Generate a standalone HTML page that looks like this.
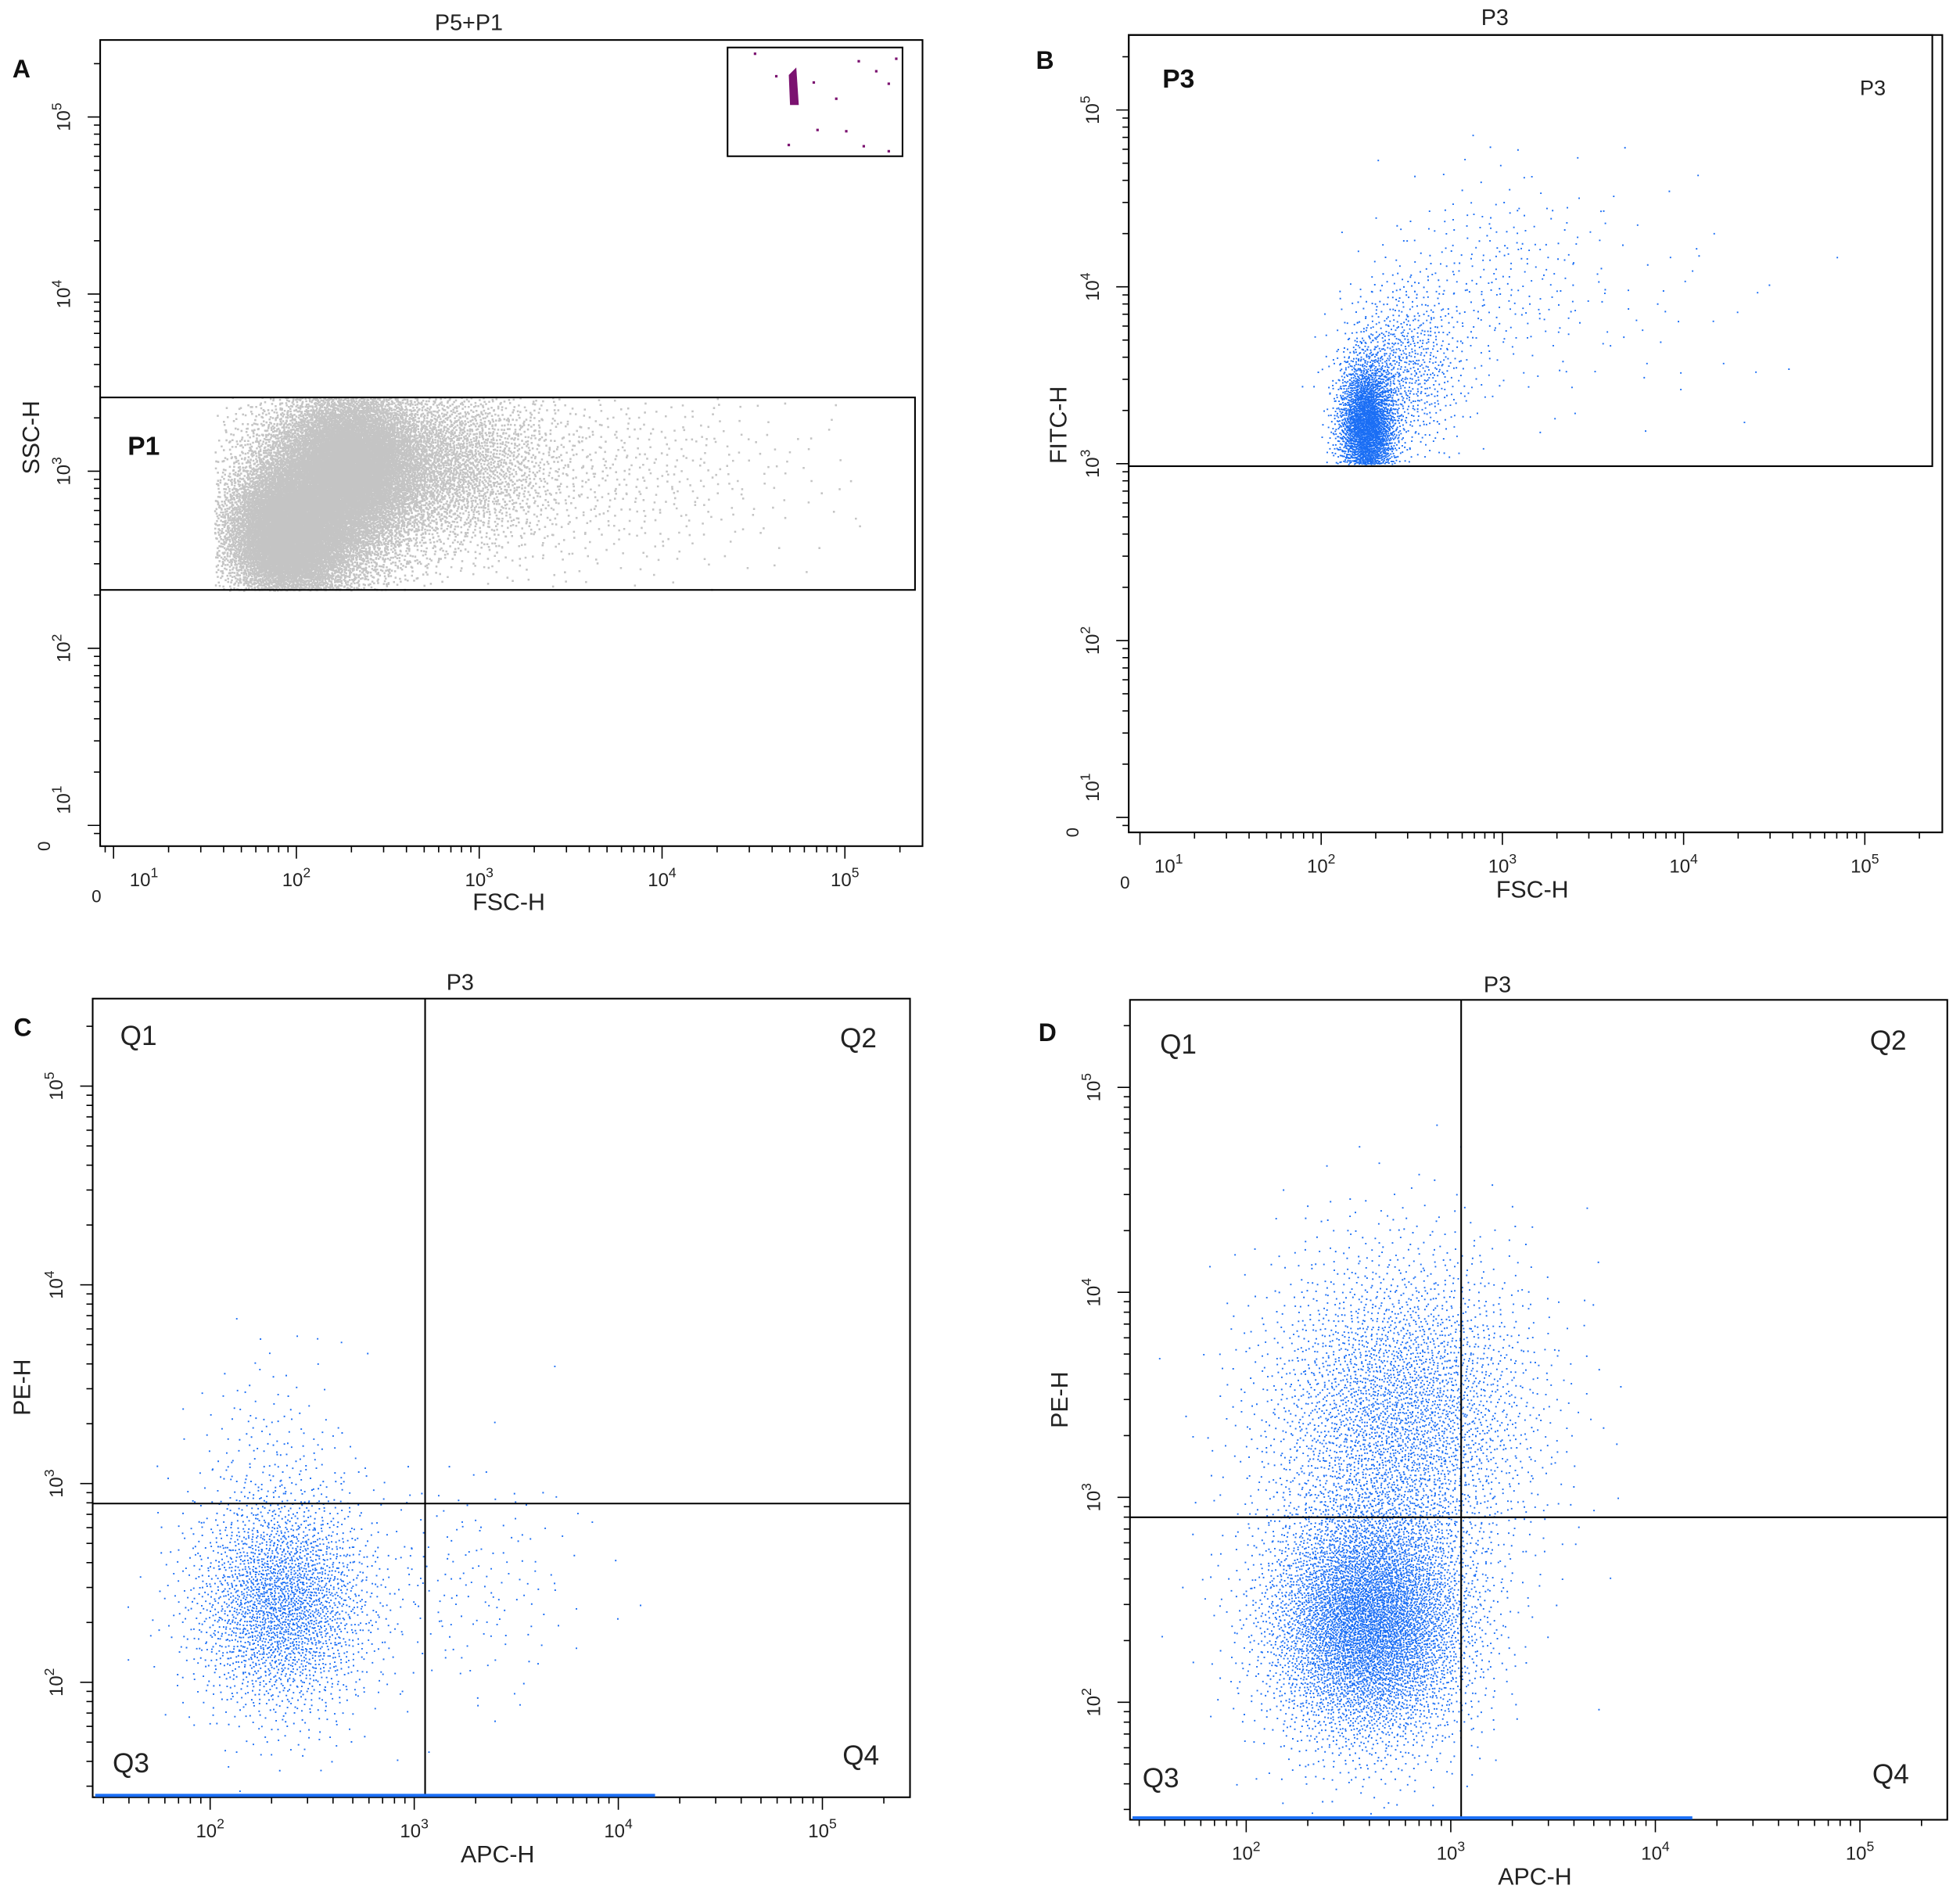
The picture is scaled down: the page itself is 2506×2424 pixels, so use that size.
<!DOCTYPE html>
<html><head><meta charset="utf-8"><style>
html,body{margin:0;padding:0;background:#fff}
svg{display:block}
text{font-family:"Liberation Sans",sans-serif}
</style></head><body>
<svg id="fig" width="2506" height="2424" viewBox="0 0 1568 1517" xmlns="http://www.w3.org/2000/svg">
<rect width="1568" height="1517" fill="#fff"/>
<g id="pts"></g>
<g id="axes"></g>
</svg>
<script>
// ---- data (log10 units): clusters [cx, cy, sdx, sdy, count]
const panelNames = ['A','B','C','D'];
const clustersA = [[1.95,2.65,0.18,0.2,7000],[2.3,3.05,0.2,0.22,7000],[2.15,2.85,0.25,0.3,6000],[2.8,3.05,0.3,0.25,3000],[3.6,3.0,0.6,0.3,700]];
const clustersB = [[2.25,3.2,0.08,0.2,3000],[2.45,3.55,0.17,0.25,800],[2.95,4.05,0.3,0.3,250],[3.6,3.9,0.5,0.4,70]];
const clustersC = [[2.35,2.4,0.22,0.28,2600],[2.3,3.1,0.2,0.3,160],[3.25,2.5,0.3,0.3,180]];
const clustersD = [[2.6,2.4,0.25,0.3,6500],[2.75,3.4,0.33,0.4,3600]];
const insetPts = [[633,70],[603,42],[620,60],[650,65],[668,78],[686,48],[700,56],[710,66],[716,46],[630,115],[653,103],[690,116],[710,120],[676,104]];
const titles = ['P5+P1','P3','P3','P3'];
const xLabels = ['FSC-H','FSC-H','APC-H','APC-H'];
const yLabels = ['SSC-H','FITC-H','PE-H','PE-H'];

const NS='http://www.w3.org/2000/svg';
const P = [
 {box:[80,32,738,677], x:v=>237+(v-2)*146.3, y:v=>377-(v-3)*141.7, color:'#c4c4c4', sz:1.6, clusters:clustersA, clip:[1.55,2.33,5.2,3.42], xd:[1,2,3,4,5], yd:[1,2,3,4,5], letter:[17,55], title:[375,18], xl:[407,722], yl:[25,350]},
 {box:[903,28,1554,666], x:v=>1057+(v-2)*145, y:v=>371-(v-3)*141.5, color:'#1a6ef5', sz:1.2, clusters:clustersB, clip:[1.7,3.0,5.3,5.3], xd:[1,2,3,4,5], yd:[1,2,3,4,5], letter:[836,48], title:[1196,14], xl:[1226,712], yl:[847,340]},
 {box:[74,799,728,1438], x:v=>168+(v-2)*163.3, y:v=>1187-(v-3)*159, color:'#1a6ef5', sz:1.2, clusters:clustersC, clip:[1.45,1.45,5.3,5.3], xd:[2,3,4,5], yd:[2,3,4,5], letter:[18,822], title:[368,786], xl:[398,1484], yl:[18,1110]},
 {box:[904,800,1558,1456], x:v=>997+(v-2)*163.7, y:v=>1198-(v-3)*164, color:'#1a6ef5', sz:1.2, clusters:clustersD, clip:[1.45,1.45,5.3,5.3], xd:[2,3,4,5], yd:[2,3,4,5], letter:[838,826], title:[1198,788], xl:[1228,1502], yl:[848,1120]}
];
function halton(i,b){let f=1,r=0;while(i>0){f/=b;r+=f*(i%b);i=Math.floor(i/b);}return r;}
const pts=document.getElementById('pts'), axes=document.getElementById('axes');
function el(tag,attrs,parent){const e=document.createElementNS(NS,tag);for(const k in attrs)e.setAttribute(k,attrs[k]);(parent||axes).appendChild(e);return e;}
let hIdx=1;
P.forEach((p,pi)=>{
  const [x0,y0,x1,y1]=p.box;
  let d='';
  const s=p.sz;
  p.clusters.forEach(c=>{
    for(let i=0;i<c[4];i++){
      const u1=Math.max(1e-6,halton(hIdx,2)), u2=halton(hIdx,3); hIdx++;
      const r=Math.sqrt(-2*Math.log(u1));
      const lx=c[0]+c[2]*r*Math.cos(2*Math.PI*u2), ly=c[1]+c[3]*r*Math.sin(2*Math.PI*u2);
      if(lx<p.clip[0]||lx>p.clip[2]||ly<p.clip[1]||ly>p.clip[3])continue;
      const px=p.x(lx), py=p.y(ly);
      if(px<x0||px>x1-2||py<y0||py>y1)continue;
      d+='M'+px.toFixed(1)+' '+py.toFixed(1)+'h'+s+'v'+s+'h-'+s+'z';
    }
  });
  const path=el('path',{d:d,fill:p.color},pts);
  
  
  const box=el('rect',{x:x0,y:y0,width:x1-x0,height:y1-y0,fill:'none',stroke:'#000','stroke-width':1.3});
  
  
  const xmin=p.xd[0]-0.6, xmax=p.xd[p.xd.length-1]+0.3;
  for(let dd=Math.floor(xmin);dd<=Math.ceil(xmax);dd++){
    for(let m=1;m<10;m++){
      const v=dd+Math.log10(m), px=p.x(v);
      if(px<x0+3||px>x1-2)continue;
      el('line',{x1:px,y1:y1,x2:px,y2:y1+(m===1?10:5),stroke:'#000','stroke-width':1});
    }
  }
  for(let dd=p.yd[0]-1;dd<=p.yd[p.yd.length-1];dd++){
    for(let m=1;m<10;m++){
      const v=dd+Math.log10(m), py=p.y(v);
      if(py>y1-3||py<y0+3)continue;
      el('line',{x1:x0,y1:py,x2:x0-(m===1?10:5),y2:py,stroke:'#000','stroke-width':1});
    }
  }
  p.xd.forEach(v=>{
    let px=p.x(v); if(v===1&&pi===0)px=115; if(v===1&&pi===1)px=935;
    const t=el('text',{x:px,y:y1+32,'font-size':15,'text-anchor':'middle',fill:'#222'});
    
    
    t.innerHTML='10<tspan dy="-7" font-size="11">'+v+'</tspan>';
  });
  p.yd.forEach(v=>{
    let py=p.y(v); if(v===1&&pi===0)py=640; if(v===1&&pi===1)py=630;
    const t=el('text',{x:0,y:0,'font-size':15,'text-anchor':'middle',fill:'#222',transform:'translate('+(x0-24)+','+py+') rotate(-90)'});
    
    
    t.innerHTML='10<tspan dy="-7" font-size="11">'+v+'</tspan>';
  });
  if(pi<2){
    el('text',{x:x0-3,y:y1+45,'font-size':14,'text-anchor':'middle',fill:'#222'}).textContent='0';
    el('text',{x:0,y:0,'font-size':14,'text-anchor':'middle',fill:'#222',transform:'translate('+(x0-40)+','+(y1)+') rotate(-90)'}).textContent='0';
  }
  const tt=el('text',{x:p.title[0],y:p.title[1]+6,'font-size':18,'text-anchor':'middle',fill:'#222'});
    tt.textContent=titles[pi];
  const xl=el('text',{x:p.xl[0],y:p.xl[1]+6,'font-size':19,'text-anchor':'middle',fill:'#222'});
    xl.textContent=xLabels[pi];
  const yl=el('text',{x:0,y:0,'font-size':19,'text-anchor':'middle',fill:'#222',transform:'translate('+(p.yl[0]+6)+','+p.yl[1]+') rotate(-90)'});
    yl.textContent=yLabels[pi];
  const lt=el('text',{x:p.letter[0],y:p.letter[1]+7,'font-size':20,'font-weight':'bold','text-anchor':'middle',fill:'#111'});
    lt.textContent=panelNames[pi];
});
let g=el('rect',{x:80,y:318,width:652,height:154,fill:'none',stroke:'#000','stroke-width':1.3});
 
let t=el('text',{x:102,y:364,'font-size':21,'font-weight':'bold',fill:'#111'}); t.textContent='P1';
g=el('rect',{x:582,y:38,width:140,height:87,fill:'none',stroke:'#000','stroke-width':1.3});
 
el('path',{d:'M631 60 L637 54 L639 84 L632 84 Z',fill:'#7b1270'});
insetPts.forEach(q=>{const r=el('rect',{x:q[0],y:q[1],width:2,height:2,fill:'#7b1270'});});
g=el('rect',{x:903,y:28,width:643,height:345,fill:'none',stroke:'#000','stroke-width':1.3});
 
t=el('text',{x:930,y:70,'font-size':21,'font-weight':'bold',fill:'#111'}); t.textContent='P3';
t=el('text',{x:1488,y:76,'font-size':17,fill:'#222'}); t.textContent='P3';
[[74,799,728,1438,340,1203,[96,836],[672,838],[90,1418],[674,1412]],[904,800,1558,1456,1169,1214,[928,843],[1496,840],[914,1430],[1498,1427]]].forEach(q=>{
  let l=el('line',{x1:q[4],y1:q[1],x2:q[4],y2:q[3],stroke:'#000','stroke-width':1.3});  
  l=el('line',{x1:q[0],y1:q[5],x2:q[2],y2:q[5],stroke:'#000','stroke-width':1.3});  
  ['Q1','Q2','Q3','Q4'].forEach((s,i)=>{const tx=el('text',{x:q[6+i][0],y:q[6+i][1],'font-size':22,fill:'#222'});tx.textContent=s;});
  el('line',{x1:q[0]+2,y1:q[3]-1.5,x2:q[0]+450,y2:q[3]-1.5,stroke:'#1a6ef5','stroke-width':2.5});
});
</script>
</body></html>
